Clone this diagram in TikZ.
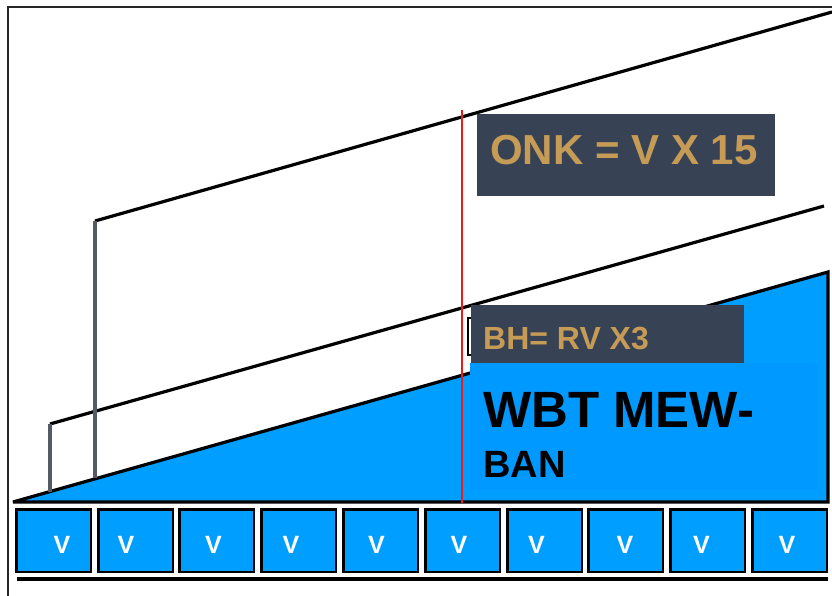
\documentclass[tikz,border=0pt]{standalone}
\usepackage{fontspec}
\setmainfont{Liberation Sans}
\usetikzlibrary{positioning}

\definecolor{skyblue}{RGB}{0,158,255}
\definecolor{skybluein}{RGB}{0,153,255}
\definecolor{slate}{RGB}{55,66,84}
\definecolor{gold}{RGB}{197,155,86}
\definecolor{post}{RGB}{86,90,101}
\definecolor{redline}{RGB}{232,28,28}

\tikzset{
  vbox/.style={draw=black, line width=2.5pt, fill=skyblue, minimum width=74.5pt, minimum height=62.5pt, inner sep=0pt},
  vlabel/.style={anchor=base, inner sep=0pt, text=white, font=\bfseries\fontsize{25}{25}\selectfont},
  taglabel/.style={anchor=base west, inner sep=0pt, text=gold, font=\bfseries},
  bigtext/.style={anchor=base west, inner sep=0pt, text=black, font=\bfseries},
}

\begin{document}
\begin{tikzpicture}[x=1pt,y=-1pt]
\useasboundingbox (0,0) rectangle (832,596);

% frame
\draw [line width=1.5pt, black!85] (8,596) -- (8,7) -- (832,7);

% wedge
\filldraw [fill=skyblue, line width=3.2pt, line join=miter, miter limit=2] (13,502) -- (828,272) -- (828,502) -- cycle;
\fill [skybluein] (470,363) rectangle (818,490);

% slopes and posts
\draw [line width=3.2pt] (95,221) -- (832,12);
\draw [line width=3.2pt] (50,424) -- (824,206);
\draw [line width=3.2pt, post] (95,221) -- (95,478);
\draw [line width=3.2pt, post] (50,424) -- (50,492);

% cut
\draw [line width=2.5pt, redline] (462,110) -- (462,503);

% tags
\fill [slate] (477,114) rectangle (775,196);
\node [taglabel, font=\bfseries\fontsize{42}{42}\selectfont] (onk) at (490,165) {ONK = V X 15};

\draw [line width=2pt] (468,318) rectangle (482,355);
\fill [slate] (471,305) rectangle (744,363);
\node [taglabel, font=\bfseries\fontsize{32}{32}\selectfont] (bh) at (483,349) {BH= RV X3};

\node [bigtext, font=\bfseries\fontsize{51}{51}\selectfont] (wbt) at (483,427) {WBT MEW-};
\node [bigtext, font=\bfseries\fontsize{38}{38}\selectfont] (ban) at (483,477) {BAN};

% row of blocks
\foreach \bx/\vx [count=\i] in {15/62, 97/126, 178/213.5, 260/291, 342/376.5, 424/459, 506/536.5, 587/625, 669/701.5, 751/787} {
  \node [vbox] (box\i) at (\bx+38.5,540.5) {};
  \node [vlabel] (v\i) at (\vx,553) {V};
}

\draw [line width=3.2pt] (17,579) -- (828,579);
\end{tikzpicture}
\end{document}
